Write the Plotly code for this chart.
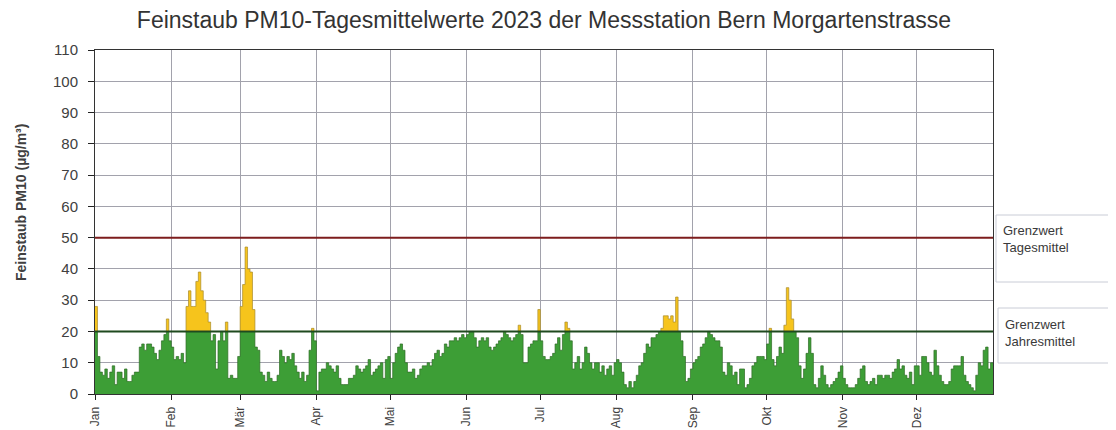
import plotly.graph_objects as go

# --- data: PM10 daily means 2023 (µg/m³) ---
months = ["Jan", "Feb", "Mär", "Apr", "Mai", "Jun", "Jul", "Aug", "Sep", "Okt", "Nov", "Dez"]

jan = [28, 12, 7, 6, 8, 5, 7, 9, 3, 7, 7, 5, 8, 4, 4, 6, 7, 7, 15, 16, 14, 16, 16, 15, 13, 11, 14, 17, 19, 24, 17]
feb = [15, 11, 12, 11, 13, 10, 28, 33, 28, 28, 36, 39, 33, 30, 26, 23, 17, 19, 8, 17, 20, 17, 23, 5, 6, 5, 5, 12]
mar = [28, 35, 47, 40, 39, 27, 15, 14, 7, 6, 4, 7, 5, 4, 4, 6, 14, 12, 10, 12, 11, 13, 9, 7, 5, 7, 4, 6, 14, 21, 17]
apr = [1, 7, 8, 8, 10, 9, 8, 7, 9, 5, 3, 3, 3, 5, 5, 6, 9, 8, 7, 8, 9, 11, 6, 7, 8, 9, 10, 5, 11, 12]
mai = [5, 10, 13, 15, 16, 14, 10, 7, 7, 8, 5, 6, 8, 9, 9, 10, 9, 11, 13, 14, 12, 13, 16, 15, 17, 17, 18, 17, 18, 19, 18]
jun = [19, 20, 20, 18, 15, 17, 18, 17, 18, 15, 14, 15, 16, 17, 18, 20, 19, 18, 17, 18, 19, 22, 19, 10, 10, 15, 16, 17, 17, 27]
jul = [17, 12, 11, 11, 12, 13, 16, 18, 14, 19, 23, 21, 17, 8, 10, 12, 8, 10, 15, 13, 10, 8, 10, 10, 7, 9, 6, 8, 9, 6, 10]
aug = [11, 10, 7, 3, 2, 4, 2, 4, 6, 9, 10, 13, 16, 15, 18, 18, 19, 20, 21, 25, 25, 24, 25, 23, 31, 20, 17, 12, 4, 5, 8]
sep = [10, 11, 12, 15, 16, 18, 20, 19, 18, 17, 17, 15, 7, 6, 10, 9, 6, 7, 3, 8, 8, 2, 3, 5, 9, 10, 12, 12, 12, 11]
okt = [16, 21, 11, 9, 12, 15, 13, 22, 34, 30, 24, 20, 18, 9, 5, 8, 13, 18, 13, 3, 2, 5, 9, 6, 3, 2, 3, 4, 5, 7, 9]
nov = [5, 3, 2, 2, 2, 3, 5, 8, 9, 4, 3, 4, 5, 3, 6, 6, 5, 6, 6, 5, 7, 8, 11, 8, 9, 6, 5, 7, 3, 9]
dez = [9, 6, 12, 12, 10, 7, 6, 14, 9, 6, 4, 3, 3, 4, 8, 9, 9, 9, 12, 6, 4, 3, 2, 1, 6, 10, 9, 14, 15, 8, 10]

limit_day = 50    # Grenzwert Tagesmittel
limit_year = 20   # Grenzwert Jahresmittel

month_data = [jan, feb, mar, apr, mai, jun, jul, aug, sep, okt, nov, dez]
pm10 = [v for m in month_data for v in m]
month_start = []
acc = 0
for m in month_data:
    month_start.append(acc)
    acc += len(m)
n_days = acc

# step representation (value holds for the whole day)
x_step = list(range(n_days + 1))
y_all = pm10 + [pm10[-1]]
y_low = [min(v, limit_year) for v in y_all]
y_high = [max(v, limit_year) for v in y_all]
y_base = [limit_year] * len(y_all)

GREEN = "#3d9e36"
GREEN_EDGE = "#2e6c25"
YELLOW = "#f6c41c"
YELLOW_EDGE = "#a8892a"

fig = go.Figure()
fig.add_trace(go.Scatter(x=x_step, y=y_low, mode="lines", line=dict(shape="hv", width=0.7, color=GREEN_EDGE),
                         fill="tozeroy", fillcolor=GREEN, hoverinfo="skip", showlegend=False))
fig.add_trace(go.Scatter(x=x_step, y=y_base, mode="lines", line=dict(shape="hv", width=0),
                         hoverinfo="skip", showlegend=False))
fig.add_trace(go.Scatter(x=x_step, y=y_high, mode="lines", line=dict(shape="hv", width=0.7, color=YELLOW_EDGE),
                         fill="tonexty", fillcolor=YELLOW, hoverinfo="skip", showlegend=False))

# limit lines
fig.add_shape(type="line", xref="paper", x0=0, x1=1, yref="y", y0=limit_day, y1=limit_day,
              line=dict(color="#7d1d1d", width=2), layer="above")
fig.add_shape(type="line", xref="paper", x0=0, x1=1, yref="y", y0=limit_year, y1=limit_year,
              line=dict(color="#1f4a1f", width=2), layer="above")

# page offset (browser body margin) and plot geometry in screen pixels
OFF = 8
L, R, T, B = 95 - OFF, 993 - OFF, 50 - OFF, 394 - OFF
W, H = R - L, B - T
def px(x):
    return (x - OFF - L) / W
def py(y):
    return (B - (y - OFF)) / H

fig.add_shape(type="rect", xref="paper", yref="paper", x0=px(996), x1=px(1130), y0=py(282), y1=py(215),
              line=dict(color="#c9ccd6", width=1), fillcolor="white")
fig.add_shape(type="rect", xref="paper", yref="paper", x0=px(998), x1=px(1130), y0=py(363), y1=py(308),
              line=dict(color="#c9ccd6", width=1), fillcolor="white")
fig.add_annotation(xref="paper", yref="paper", x=px(1001), y=py(239), xanchor="left", yanchor="middle",
                   text="Grenzwert<br>Tagesmittel", showarrow=False, align="left",
                   font=dict(size=13, color="#3a3a3a"))
fig.add_annotation(xref="paper", yref="paper", x=px(1003), y=py(333), xanchor="left", yanchor="middle",
                   text="Grenzwert<br>Jahresmittel", showarrow=False, align="left",
                   font=dict(size=13, color="#3a3a3a"))

# y-axis title
fig.add_annotation(xref="paper", yref="paper", x=px(21), y=py(203), xanchor="center", yanchor="middle",
                   text="<b>Feinstaub PM10 (µg/m³)</b>", textangle=-90, showarrow=False,
                   font=dict(size=14, color="#404040"))

fig.update_layout(
    width=1116, height=430,
    margin=dict(l=L, r=1116 - R, t=T, b=430 - B, autoexpand=False),
    paper_bgcolor="white", plot_bgcolor="white",
    font=dict(family="Liberation Sans, Arial, sans-serif", color="#404040"),
    title=dict(text="Feinstaub PM10-Tagesmittelwerte 2023 der Messstation Bern Morgartenstrasse",
               x=0.5, xref="paper", xanchor="center", y=1 - (20 - OFF) / 430, yref="container",
               yanchor="middle", font=dict(size=23, color="#333333")),
    showlegend=False,
)
fig.update_xaxes(range=[0, n_days], tickmode="array", tickvals=month_start, ticktext=months,
                 tickangle=-90, ticks="outside", ticklen=5, tickcolor="#222",
                 showgrid=True, gridcolor="#a2a2ac", gridwidth=1, automargin=False,
                 showline=True, linecolor="#333", linewidth=1, mirror=True,
                 tickfont=dict(size=12, color="#404040"), zeroline=False, ticklabelstandoff=2)
fig.update_yaxes(range=[0, 110], tick0=0, dtick=10, ticks="outside", ticklen=6, tickcolor="#222",
                 showgrid=True, gridcolor="#a2a2ac", gridwidth=1, automargin=False,
                 showline=True, linecolor="#333", linewidth=1, mirror=True,
                 tickfont=dict(size=15, color="#404040"), zeroline=False, ticklabelstandoff=7)

fig.write_html("out.html")
